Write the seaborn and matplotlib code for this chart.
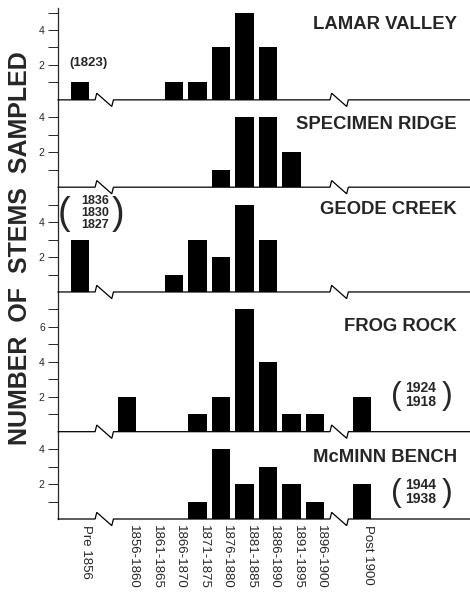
import numpy as np
import pandas as pd
import matplotlib
matplotlib.use('Agg')
import matplotlib.pyplot as plt
import seaborn as sns

sns.set_style('ticks')
plt.rcParams['font.family'] = ['Liberation Sans', 'DejaVu Sans']

# period classes (two blank slots stand for the axis breaks)
periods = ['Pre 1856', '1856-1860', '1861-1865', '1866-1870', '1871-1875',
           '1876-1880', '1881-1885', '1886-1890', '1891-1895', '1896-1900',
           'Post 1900']
order = ['Pre 1856', ' ', '1856-1860', '1861-1865', '1866-1870', '1871-1875',
         '1876-1880', '1881-1885', '1886-1890', '1891-1895', '1896-1900',
         '  ', 'Post 1900']

sites = ['LAMAR VALLEY', 'SPECIMEN RIDGE', 'GEODE CREEK', 'FROG ROCK', 'McMINN BENCH']
lamar = [1, 0, 0, 1, 1, 3, 5, 3, 0, 0, 0]
specimen = [0, 0, 0, 0, 0, 1, 4, 4, 2, 0, 0]
geode = [3, 0, 0, 1, 3, 2, 5, 3, 0, 0, 0]
frog = [0, 2, 0, 0, 1, 2, 7, 4, 1, 1, 2]
mcminn = [0, 0, 0, 0, 1, 4, 2, 3, 2, 1, 2]
counts = [lamar, specimen, geode, frog, mcminn]

ylims = [5.26, 5, 6, 8, 5]
title_y = [4.3, 3.6, 4.7, 6.0, 3.55]

df = pd.DataFrame({
    'site': np.repeat(sites, len(periods)),
    'period': periods * len(sites),
    'count': np.concatenate(counts),
})

fig = plt.figure(figsize=(4.7, 5.93), dpi=100)
gs = fig.add_gridspec(5, 1, height_ratios=ylims, hspace=0,
                      left=58/470, right=1.0, top=1-8/593, bottom=1-519/593)

xl = (-0.94, 16.6)
lw = 0.9
for i, site in enumerate(sites):
    ax = fig.add_subplot(gs[i])
    ax.patch.set_visible(False)
    sns.barplot(data=df[df['site'] == site], x='period', y='count', order=order,
                color='black', width=0.77, linewidth=0, ax=ax)
    ax.set_xlim(*xl)
    ax.set_ylim(0, ylims[i])
    for s in ['top', 'right', 'bottom']:
        ax.spines[s].set_visible(False)
    ax.spines['left'].set_linewidth(lw)
    yt = [v for v in range(1, 9) if v < ylims[i] - 0.1]
    ax.set_yticks(yt)
    ax.set_yticklabels([str(v) if v % 2 == 0 else '' for v in yt], fontsize=7.5)
    ax.tick_params(axis='y', length=7.5, width=0.7, pad=2)
    ax.set_xlabel('')
    ax.set_ylabel('')

    # baseline with the two zig-zag breaks
    bx, by = [xl[0]], [0]
    for b in [1, 11]:
        bx += [b - 0.36, b - 0.29, b + 0.35, b + 0.42]
        by += [0, 0.38, -0.38, 0]
    bx.append(xl[1])
    by.append(0)
    ax.plot(bx, by, color='black', lw=lw, clip_on=False, solid_joinstyle='miter',
            zorder=5)

    ax.text(0.968, title_y[i], site, transform=ax.get_yaxis_transform(),
            ha='right', va='center', fontsize=13.3, fontweight='bold')

    if i < 4:
        ax.set_xticks([])
    else:
        ax.set_xticks(range(len(order)))
        ax.set_xticklabels(order, rotation=270, ha='left', fontsize=9.5)
        ax.tick_params(axis='x', length=0, pad=4)

    if site == 'LAMAR VALLEY':
        ax.text(0.34, 2.1, '(1823)', ha='center', va='center', fontsize=9.5,
                fontweight='bold')
    if site == 'GEODE CREEK':
        ax.text(0.64, 4.55, '1836\n1830\n1827', ha='center', va='center',
                fontsize=9, fontweight='bold', linespacing=1.0)
        ax.text(-0.68, 4.45, '(', ha='center', va='center', fontsize=27)
        ax.text(1.62, 4.45, ')', ha='center', va='center', fontsize=27)
    if site == 'FROG ROCK':
        ax.text(14.5, 2.1, '1924\n1918', ha='center', va='center',
                fontsize=10, fontweight='bold', linespacing=1.0)
        ax.text(13.45, 2.05, '(', ha='center', va='center', fontsize=23)
        ax.text(15.62, 2.05, ')', ha='center', va='center', fontsize=23)
    if site == 'McMINN BENCH':
        ax.text(14.5, 1.55, '1944\n1938', ha='center', va='center',
                fontsize=10, fontweight='bold', linespacing=1.0)
        ax.text(13.45, 1.5, '(', ha='center', va='center', fontsize=23)
        ax.text(15.62, 1.5, ')', ha='center', va='center', fontsize=23)

fig.text(20/470, 1-248/593, 'NUMBER  OF  STEMS  SAMPLED', rotation=90,
         ha='center', va='center', fontsize=18, fontweight='bold')

fig.savefig('out.png', dpi=100)
